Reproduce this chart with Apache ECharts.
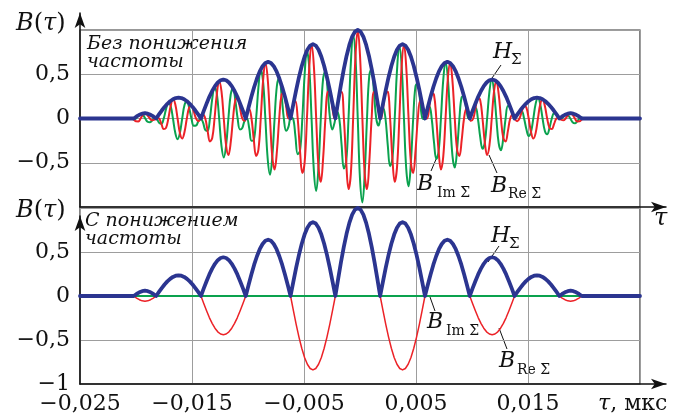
<!DOCTYPE html>
<html><head><meta charset="utf-8">
<script src="https://cdn.jsdelivr.net/npm/echarts@6/dist/echarts.min.js"></script>
<style>html,body{margin:0;padding:0;background:#fff}#c{width:683px;height:420px}</style>
</head><body><div id="c"></div>
<script>
// tau grid of the carrier-frequency curves (upper panel)
const tauCarrier = [-0.025,
-0.0212375,-0.02103125,-0.020825,-0.02061875,-0.0204125,-0.02020625,-0.02,-0.01979375,-0.0195875,-0.01938125,
-0.019175,-0.01896875,-0.0187625,-0.01855625,-0.01835,-0.01814375,-0.0179375,-0.01773125,-0.017525,-0.01731875,
-0.0171125,-0.01690625,-0.0167,-0.01649375,-0.0162875,-0.01608125,-0.015875,-0.01566875,-0.0154625,-0.01525625,
-0.01505,-0.01484375,-0.0146375,-0.01443125,-0.014225,-0.01401875,-0.0138125,-0.01360625,-0.0134,-0.01319375,
-0.0129875,-0.01278125,-0.012575,-0.01236875,-0.0121625,-0.01195625,-0.01175,-0.01154375,-0.0113375,-0.01113125,
-0.010925,-0.01071875,-0.0105125,-0.01030625,-0.0101,-0.00989375,-0.0096875,-0.00948125,-0.009275,-0.00906875,
-0.0088625,-0.00865625,-0.00845,-0.00824375,-0.0080375,-0.00783125,-0.007625,-0.00741875,-0.0072125,-0.00700625,
-0.0068,-0.00659375,-0.0063875,-0.00618125,-0.005975,-0.00576875,-0.0055625,-0.00535625,-0.00515,-0.00494375,
-0.0047375,-0.00453125,-0.004325,-0.00411875,-0.0039125,-0.00370625,-0.0035,-0.00329375,-0.0030875,-0.00288125,
-0.002675,-0.00246875,-0.0022625,-0.00205625,-0.00185,-0.00164375,-0.0014375,-0.00123125,-0.001025,-0.00081875,
-0.0006125,-0.00040625,
-0.0002,0.00000625,0.0002125,0.00041875,0.000625,0.00083125,0.0010375,0.00124375,0.00145,0.00165625,
0.0018625,0.00206875,0.002275,0.00248125,0.0026875,0.00289375,0.0031,0.00330625,0.0035125,0.00371875,
0.003925,0.00413125,0.0043375,0.00454375,0.00475,0.00495625,0.0051625,0.00536875,0.005575,0.00578125,
0.0059875,0.00619375,0.0064,0.00660625,0.0068125,0.00701875,0.007225,0.00743125,0.0076375,0.00784375,
0.00805,0.00825625,0.0084625,0.00866875,0.008875,0.00908125,0.0092875,0.00949375,0.0097,0.00990625,
0.0101125,0.01031875,0.010525,0.01073125,0.0109375,0.01114375,0.01135,0.01155625,0.0117625,0.01196875,
0.012175,0.01238125,0.0125875,0.01279375,0.013,0.01320625,0.0134125,0.01361875,0.013825,0.01403125,
0.0142375,0.01444375,0.01465,0.01485625,0.0150625,0.01526875,0.015475,0.01568125,0.0158875,0.01609375,
0.0163,0.01650625,0.0167125,0.01691875,0.017125,0.01733125,0.0175375,0.01774375,0.01795,0.01815625,
0.0183625,0.01856875,0.018775,0.01898125,0.0191875,0.01939375,0.0196,0.01980625,0.0200125,0.02021875,
0.020425,0.02063125,0.0208375,
0.025];
// B_Re (red) without frequency down-conversion
const reTop = [0,
0,0,0,0,0,-0.011,-0.032,-0.033,0,0.042,
0.059,0.037,0,-0.021,-0.013,0.007,0,-0.060,-0.119,-0.106,
0,0.141,0.217,0.162,0,-0.165,-0.227,-0.152,0,0.122,
0.146,0.081,0,-0.030,-0.005,0.045,0,-0.140,-0.259,-0.221,
0,0.279,0.421,0.308,0,-0.305,-0.413,-0.271,0,0.208,
0.237,0.123,0,-0.026,0.05,0.108,0,-0.242,-0.425,-0.351,
0,0.423,0.628,0.452,0,-0.433,-0.576,-0.370,0,0.268,
0.291,0.138,0,0.008,0.147,0.197,0,-0.366,-0.617,-0.496,
0,0.574,0.836,0.592,0,-0.550,-0.716,-0.450,0,0.303,
0.306,0.124,0,0.080,0.271,0.299,0,-0.488,-0.797,-0.625,
0,0.698,
1.0,0.698,0,-0.625,-0.797,-0.488,0,0.299,0.271,0.080,
0,0.124,0.306,0.303,0,-0.450,-0.716,-0.550,0,0.592,
0.836,0.574,0,-0.496,-0.617,-0.366,0,0.197,0.147,0.008,
0,0.138,0.291,0.268,0,-0.370,-0.576,-0.433,0,0.452,
0.628,0.423,0,-0.351,-0.425,-0.242,0,0.108,0.05,-0.026,
0,0.123,0.237,0.208,0,-0.271,-0.413,-0.305,0,0.308,
0.421,0.279,0,-0.221,-0.259,-0.140,0,0.045,-0.005,-0.030,
0,0.081,0.146,0.122,0,-0.152,-0.227,-0.165,0,0.162,
0.217,0.141,0,-0.106,-0.119,-0.060,0,0.007,-0.013,-0.021,
0,0.037,0.059,0.042,0,-0.033,-0.032,-0.011,0,0,
0,0,0,
0];
// B_Im (green) without frequency down-conversion
const imTop = [0,
0,0,0,0,0,-0.011,0,0.033,0.055,0.042,
0,-0.037,-0.043,-0.021,0,-0.007,-0.048,-0.060,0,0.106,
0.177,0.141,0,-0.162,-0.234,-0.165,0,0.152,0.197,0.122,
0,-0.081,-0.079,-0.030,0,-0.045,-0.131,-0.140,0,0.221,
0.359,0.279,0,-0.308,-0.44,-0.305,0,0.271,0.343,0.208,
0,-0.123,-0.107,-0.026,0,-0.108,-0.251,-0.242,0,0.351,
0.555,0.423,0,-0.452,-0.635,-0.433,0,0.370,0.457,0.268,
0,-0.138,-0.094,0.008,0,-0.197,-0.403,-0.366,0,0.496,
0.766,0.574,0,-0.592,-0.818,-0.550,0,0.450,0.539,0.303,
0,-0.124,-0.041,0.080,0,-0.299,-0.564,-0.488,0,0.625,
0.948,0.698,
0,-0.698,-0.948,-0.625,0,0.488,0.564,0.299,0,-0.080,
0.041,0.124,0,-0.303,-0.539,-0.450,0,0.550,0.818,0.592,
0,-0.574,-0.766,-0.496,0,0.366,0.403,0.197,0,-0.008,
0.094,0.138,0,-0.268,-0.457,-0.370,0,0.433,0.635,0.452,
0,-0.423,-0.555,-0.351,0,0.242,0.251,0.108,0,0.026,
0.107,0.123,0,-0.208,-0.343,-0.271,0,0.305,0.44,0.308,
0,-0.279,-0.359,-0.221,0,0.140,0.131,0.045,0,0.030,
0.079,0.081,0,-0.122,-0.197,-0.152,0,0.165,0.234,0.162,
0,-0.141,-0.177,-0.106,0,0.060,0.048,0.007,0,0.021,
0.043,0.037,0,-0.042,-0.055,-0.033,0,0.011,0,0,
0,0,0,
0];
// tau grid of the envelope
const tauEnv = [-0.025,
-0.0202,-0.01995,-0.0197,-0.01945,-0.0192,-0.01895,-0.0187,-0.01845,
-0.0182,-0.01795,-0.0177,-0.01745,-0.0172,-0.01695,-0.0167,-0.01645,-0.0162,-0.01595,-0.0157,-0.01545,-0.0152,-0.01495,-0.0147,-0.01445,
-0.0142,-0.01395,-0.0137,-0.01345,-0.0132,-0.01295,-0.0127,-0.01245,-0.0122,-0.01195,-0.0117,-0.01145,-0.0112,-0.01095,-0.0107,-0.01045,
-0.0102,-0.00995,-0.0097,-0.00945,-0.0092,-0.00895,-0.0087,-0.00845,-0.0082,-0.00795,-0.0077,-0.00745,-0.0072,-0.00695,-0.0067,-0.00645,
-0.0062,-0.00595,-0.0057,-0.00545,-0.0052,-0.00495,-0.0047,-0.00445,-0.0042,-0.00395,-0.0037,-0.00345,-0.0032,-0.00295,-0.0027,-0.00245,
-0.0022,-0.00195,-0.0017,-0.00145,-0.0012,-0.00095,-0.0007,-0.00045,-0.0002,0.00005,0.0003,0.00055,0.0008,0.00105,0.0013,0.00155,
0.0018,0.00205,0.0023,0.00255,0.0028,0.00305,0.0033,0.00355,0.0038,0.00405,0.0043,0.00455,0.0048,0.00505,0.0053,0.00555,
0.0058,0.00605,0.0063,0.00655,0.0068,0.00705,0.0073,0.00755,0.0078,0.00805,0.0083,0.00855,0.0088,0.00905,0.0093,0.00955,
0.0098,0.01005,0.0103,0.01055,0.0108,0.01105,0.0113,0.01155,0.0118,0.01205,0.0123,0.01255,0.0128,0.01305,0.0133,0.01355,
0.0138,0.01405,0.0143,0.01455,0.0148,0.01505,0.0153,0.01555,0.0158,0.01605,0.0163,0.01655,0.0168,0.01705,0.0173,0.01755,
0.0178,0.01805,0.0183,0.01855,0.0188,0.01905,0.0193,0.01955,0.0198,
0.025];
// H_Sigma (blue envelope)
const envH = [0,
0,0.023,0.042,0.055,0.06,0.055,0.042,0.023,
0,0.046,0.09,0.131,0.166,0.195,0.217,0.231,0.235,0.231,0.217,0.195,0.166,0.131,0.09,0.046,
0,0.086,0.168,0.245,0.311,0.366,0.407,0.432,0.44,0.432,0.407,0.366,0.311,0.245,0.168,0.086,
0,0.125,0.245,0.356,0.452,0.532,0.591,0.628,0.64,0.628,0.591,0.532,0.452,0.356,0.245,0.125,
0,0.164,0.322,0.467,0.594,0.698,0.776,0.824,0.84,0.824,0.776,0.698,0.594,0.467,0.322,0.164,
0,0.195,0.383,0.556,0.707,0.831,0.924,0.981,1,0.981,0.924,0.831,0.707,0.556,0.383,0.195,
0,0.164,0.322,0.467,0.594,0.698,0.776,0.824,0.84,0.824,0.776,0.698,0.594,0.467,0.322,0.164,
0,0.125,0.245,0.356,0.452,0.532,0.591,0.628,0.64,0.628,0.591,0.532,0.452,0.356,0.245,0.125,
0,0.086,0.168,0.245,0.311,0.366,0.407,0.432,0.44,0.432,0.407,0.366,0.311,0.245,0.168,0.086,
0,0.046,0.09,0.131,0.166,0.195,0.217,0.231,0.235,0.231,0.217,0.195,0.166,0.131,0.09,0.046,
0,0.023,0.042,0.055,0.06,0.055,0.042,0.023,0,
0];
// B_Re (red) with frequency down-conversion
const reBottom = [0,
0,-0.023,-0.042,-0.055,-0.06,-0.055,-0.042,-0.023,
0,0.046,0.09,0.131,0.166,0.195,0.217,0.231,0.235,0.231,0.217,0.195,0.166,0.131,0.09,0.046,
0,-0.086,-0.168,-0.245,-0.311,-0.366,-0.407,-0.432,-0.44,-0.432,-0.407,-0.366,-0.311,-0.245,-0.168,-0.086,
0,0.125,0.245,0.356,0.452,0.532,0.591,0.628,0.64,0.628,0.591,0.532,0.452,0.356,0.245,0.125,
0,-0.164,-0.322,-0.467,-0.594,-0.698,-0.776,-0.824,-0.84,-0.824,-0.776,-0.698,-0.594,-0.467,-0.322,-0.164,
0,0.195,0.383,0.556,0.707,0.831,0.924,0.981,1,0.981,0.924,0.831,0.707,0.556,0.383,0.195,
0,-0.164,-0.322,-0.467,-0.594,-0.698,-0.776,-0.824,-0.84,-0.824,-0.776,-0.698,-0.594,-0.467,-0.322,-0.164,
0,0.125,0.245,0.356,0.452,0.532,0.591,0.628,0.64,0.628,0.591,0.532,0.452,0.356,0.245,0.125,
0,-0.086,-0.168,-0.245,-0.311,-0.366,-0.407,-0.432,-0.44,-0.432,-0.407,-0.366,-0.311,-0.245,-0.168,-0.086,
0,0.046,0.09,0.131,0.166,0.195,0.217,0.231,0.235,0.231,0.217,0.195,0.166,0.131,0.09,0.046,
0,-0.023,-0.042,-0.055,-0.06,-0.055,-0.042,-0.023,0,
0];
// B_Im (green) with frequency down-conversion
const tauFlat = [-0.025, 0.025];
const imBottom = [0, 0];

const xTickValues = [-0.025, -0.015, -0.005, 0.005, 0.015];
const xTickLabels = ['−0,025', '−0,015', '−0,005', '0,005', '0,015'];
const yTickValuesTop = [0.5, 0, -0.5];
const yTickLabelsTop = ['0,5', '0', '−0,5'];
const yTickValuesBottom = [0.5, 0, -0.5, -1];
const yTickLabelsBottom = ['0,5', '0', '−0,5', '−1'];

const BLUE = '#2b3590', RED = '#ec2227', GREEN = '#0aa24e';
const FONT = 'DejaVu Serif';
const zip = (xs, ys) => xs.map((x, i) => [x, ys[i]]);
const pick = (vals, labels) => v => { const i = vals.findIndex(t => Math.abs(t - v) < 1e-9); return i < 0 ? '' : labels[i]; };

const chart = echarts.init(document.getElementById('c'), null, {renderer: 'canvas'});
const mainX = (gi, labels) => ({
  gridIndex: gi, type: 'value', min: -0.025, max: 0.025, interval: 0.005,
  axisLine: {show: false}, axisTick: {show: false},
  axisLabel: labels ? {show: true, formatter: pick(xTickValues, xTickLabels), fontFamily: FONT, fontSize: 22, color: '#111', margin: 9, showMinLabel: true, showMaxLabel: true} : {show: false},
  splitLine: {show: true, lineStyle: {color: ['#9d9d9d', 'rgba(0,0,0,0)'], width: 1}}
});
const mainY = (gi, vals, labels) => ({
  gridIndex: gi, type: 'value', min: -1, max: 1, interval: 0.5,
  axisLine: {show: false}, axisTick: {show: false},
  axisLabel: {show: true, formatter: pick(vals, labels), fontFamily: FONT, fontSize: 22, color: '#111', margin: 10, showMinLabel: true, showMaxLabel: true},
  splitLine: {show: true, lineStyle: {color: '#9d9d9d', width: 1}}
});
const decoAxis = (gi) => ({
  gridIndex: gi, type: 'value', min: 0, max: 1,
  axisLine: {show: true, symbol: ['none', 'arrow'], symbolSize: [8, 15], lineStyle: {color: '#111', width: 1.5}},
  axisTick: {show: false}, axisLabel: {show: false}, splitLine: {show: false}
});
const line = (name, xi, yi, data, color, width, smooth) => ({
  name, type: 'line', xAxisIndex: xi, yAxisIndex: yi, data, showSymbol: false, symbol: 'none',
  smooth: smooth, clip: false, silent: true, animation: false,
  lineStyle: {color, width, join: 'round', cap: 'round'}
});
const txt = (text, left, top, size, italic) => ({
  type: 'text', left, top, silent: true,
  style: {text, font: (italic ? 'italic ' : '') + size + 'px "' + FONT + '"', fill: '#111'}
});
const lead = (x1, y1, x2, y2) => ({type: 'line', silent: true, shape: {x1, y1, x2, y2}, style: {stroke: '#111', lineWidth: 1}});
const richB = {i: {font: 'italic 24px "' + FONT + '"', fill: '#111'}, n: {font: '24px "' + FONT + '"', fill: '#111'}};

chart.setOption({
  animation: false,
  backgroundColor: '#fff',
  grid: [
    {left: 80, top: 30, width: 560, height: 177, show: true, borderColor: '#333', borderWidth: 1.2, backgroundColor: 'rgba(0,0,0,0)'},
    {left: 80, top: 208, width: 560, height: 176, show: true, borderColor: '#333', borderWidth: 1.2, backgroundColor: 'rgba(0,0,0,0)'},
    {left: 80, top: 13, width: 586, height: 194},
    {left: 80, top: 216, width: 586, height: 168}
  ],
  xAxis: [mainX(0, false), mainX(1, true), decoAxis(2), decoAxis(3)],
  yAxis: [mainY(0, yTickValuesTop, yTickLabelsTop), mainY(1, yTickValuesBottom, yTickLabelsBottom), decoAxis(2), decoAxis(3)],
  series: [
    line('B_Im top', 0, 0, zip(tauCarrier, imTop), GREEN, 2, 0.4),
    line('B_Re top', 0, 0, zip(tauCarrier, reTop), RED, 2, 0.4),
    line('H top', 0, 0, zip(tauEnv, envH), BLUE, 3.8, false),
    line('B_Re bottom', 1, 1, zip(tauEnv, reBottom), RED, 1.5, false),
    line('B_Im bottom', 1, 1, zip(tauFlat, imBottom), GREEN, 2, false),
    line('H bottom', 1, 1, zip(tauEnv, envH), BLUE, 3.8, false)
  ],
  graphic: [
    {type: 'text', left: 16, top: 12, silent: true, style: {text: '{i|B}{n|(}{i|τ}{n|)}', rich: richB}},
    {type: 'text', left: 16, top: 199, silent: true, style: {text: '{i|B}{n|(}{i|τ}{n|)}', rich: richB}},
    txt('Без понижения', 87, 35, 19, true),
    txt('частоты', 87, 53, 19, true),
    txt('С понижением', 85, 212, 19, true),
    txt('частоты', 85, 230, 19, true),
    txt('H', 493, 41, 22, true), txt('Σ', 511, 53, 15, false),
    txt('B', 417, 173, 22, true), txt('Im Σ', 437, 186, 14, false),
    txt('B', 491, 175, 22, true), txt('Re Σ', 508, 187, 14, false),
    txt('H', 491, 225, 22, true), txt('Σ', 509, 237, 15, false),
    txt('B', 427, 311, 22, true), txt('Im Σ', 446, 324, 14, false),
    txt('B', 499, 350, 22, true), txt('Re Σ', 517, 363, 14, false),
    txt('τ', 654, 207, 24, true),
    {type: 'text', left: 598, top: 393, silent: true, style: {text: '{i|τ}{n|, мкс}', rich: {i: {font: 'italic 22px "' + FONT + '"', fill: '#111'}, n: {font: '22px "' + FONT + '"', fill: '#111'}}}},
    lead(501, 65, 490, 81), lead(431, 171, 437, 157), lead(497, 173, 489, 155),
    lead(499, 246, 488, 262), lead(435, 311, 430, 297), lead(507, 349, 499, 328)
  ]
});
</script></body></html>
